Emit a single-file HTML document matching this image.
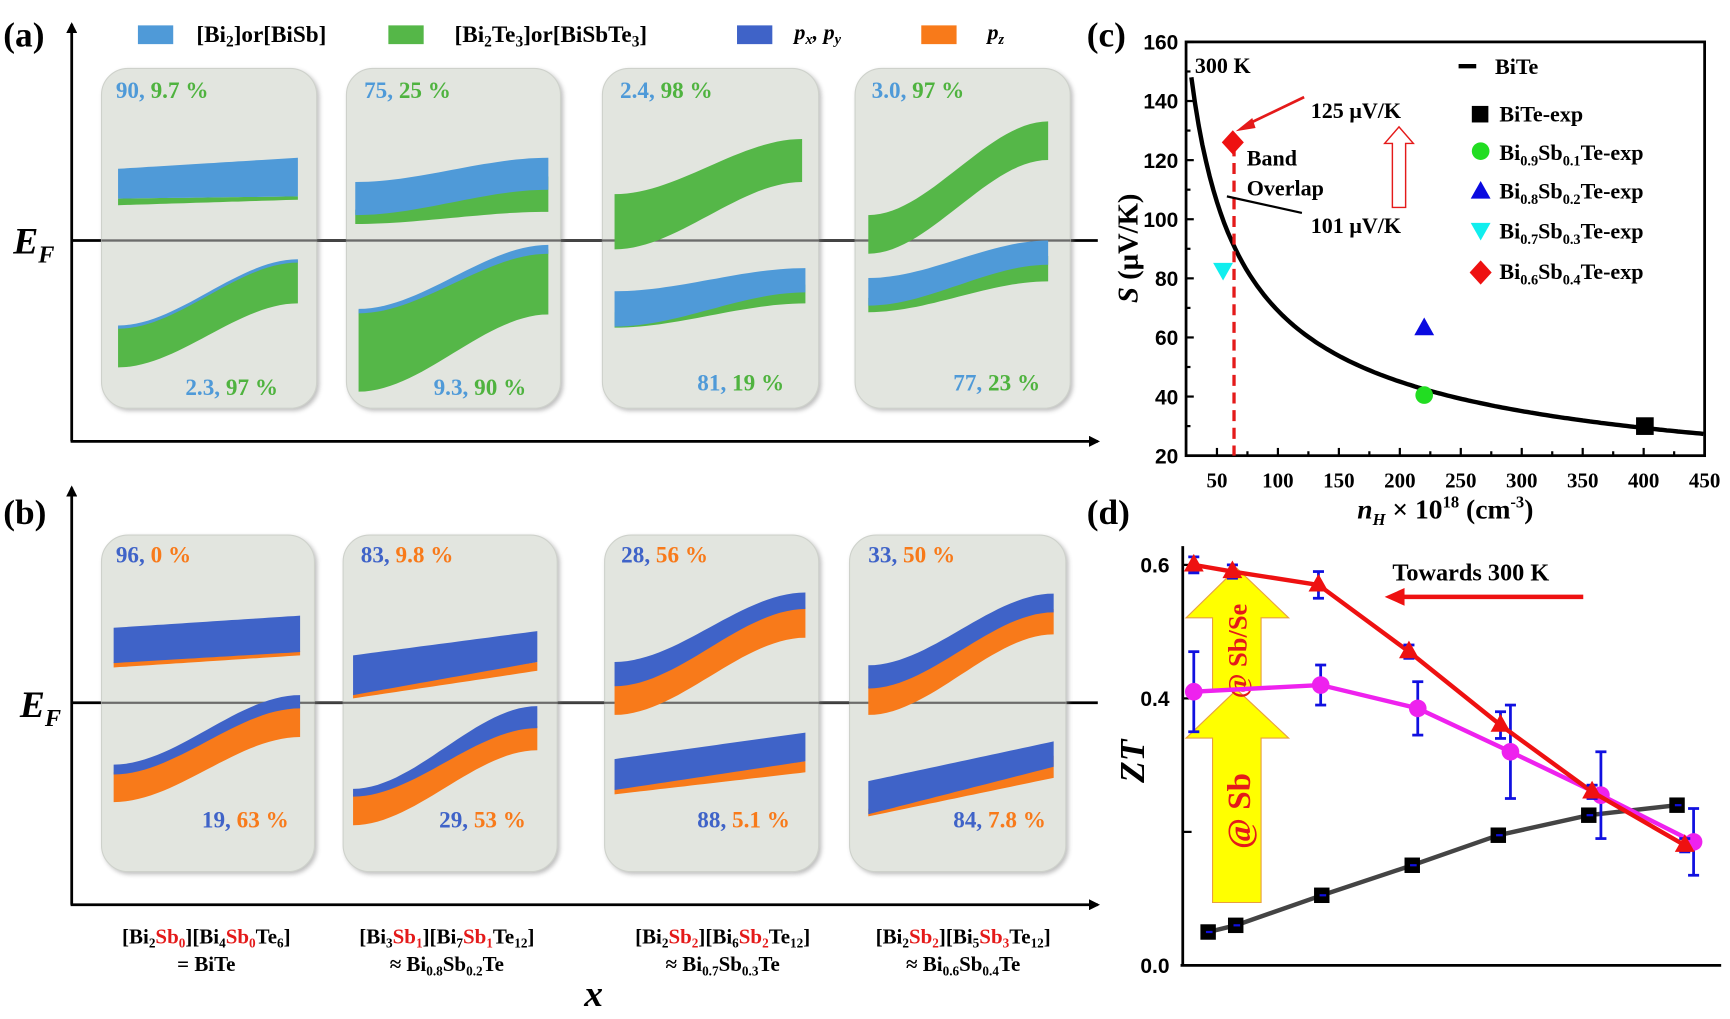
<!DOCTYPE html>
<html><head><meta charset="utf-8"><style>
html,body{margin:0;padding:0;background:#fff;}
svg{display:block;font-family:"Liberation Serif",serif;}
.b{font-weight:bold;}
</style></head><body>
<svg id="s" width="1730" height="1019" viewBox="0 0 1568 923.6" preserveAspectRatio="none" xmlns="http://www.w3.org/2000/svg">
<defs>
<marker id="ah" markerWidth="10" markerHeight="10" refX="8" refY="5" orient="auto" markerUnits="userSpaceOnUse"><path d="M0,0 L10,5 L0,10 z" fill="#000"/></marker>
<filter id="sh" x="-10%" y="-10%" width="120%" height="120%"><feDropShadow dx="2" dy="2" stdDeviation="2" flood-color="#888" flood-opacity="0.6"/></filter>
</defs>
<g id="g"></g>

<text x="3" y="42" class="b" font-size="32">(a)</text>
<text x="3" y="475" class="b" font-size="32">(b)</text>
<text x="985" y="42" class="b" font-size="32">(c)</text>
<text x="985" y="475" class="b" font-size="32">(d)</text>

<rect x="125" y="23" width="32" height="17" fill="#4f9ad8"/>
<text x="178" y="38" class="b" font-size="21">[Bi<tspan font-size="14" dy="4">2</tspan><tspan dy="-4">]or[BiSb]</tspan></text>
<rect x="352" y="23" width="32" height="17" fill="#55b748"/>
<text x="412" y="38" class="b" font-size="21">[Bi<tspan font-size="14" dy="4">2</tspan><tspan dy="-4">Te</tspan><tspan font-size="14" dy="4">3</tspan><tspan dy="-4">]or[BiSbTe</tspan><tspan font-size="14" dy="4">3</tspan><tspan dy="-4">]</tspan></text>
<rect x="668" y="23" width="32" height="17" fill="#3f63c8"/>
<text x="720" y="36" class="b" font-size="20" font-style="italic">p<tspan font-size="13" dy="4">x</tspan><tspan dy="-4">, p</tspan><tspan font-size="13" dy="4">y</tspan></text>
<rect x="835" y="23" width="32" height="17" fill="#f87a1a"/>
<text x="895" y="36" class="b" font-size="20" font-style="italic">p<tspan font-size="13" dy="4">z</tspan></text>

<text x="12" y="230" class="b" font-size="34" font-style="italic">E<tspan font-size="22" dy="8">F</tspan></text>
<text x="18" y="650" class="b" font-size="34" font-style="italic">E<tspan font-size="22" dy="8">F</tspan></text>

<g class="b" font-size="19" text-anchor="middle">
<text x="187" y="855">[Bi<tspan font-size="12" dy="4">2</tspan><tspan dy="-4" fill="#e41a1a">Sb</tspan><tspan font-size="12" dy="4" fill="#e41a1a">0</tspan><tspan dy="-4">][Bi</tspan><tspan font-size="12" dy="4">4</tspan><tspan dy="-4" fill="#e41a1a">Sb</tspan><tspan font-size="12" dy="4" fill="#e41a1a">0</tspan><tspan dy="-4">Te</tspan><tspan font-size="12" dy="4">6</tspan><tspan dy="-4">]</tspan></text>
<text x="187" y="880">= BiTe</text>
<text x="405" y="855">[Bi<tspan font-size="12" dy="4">3</tspan><tspan dy="-4" fill="#e41a1a">Sb</tspan><tspan font-size="12" dy="4" fill="#e41a1a">1</tspan><tspan dy="-4">][Bi</tspan><tspan font-size="12" dy="4">7</tspan><tspan dy="-4" fill="#e41a1a">Sb</tspan><tspan font-size="12" dy="4" fill="#e41a1a">1</tspan><tspan dy="-4">Te</tspan><tspan font-size="12" dy="4">12</tspan><tspan dy="-4">]</tspan></text>
<text x="405" y="880">≈ Bi<tspan font-size="12" dy="4">0.8</tspan><tspan dy="-4">Sb</tspan><tspan font-size="12" dy="4">0.2</tspan><tspan dy="-4">Te</tspan></text>
<text x="655" y="855">[Bi<tspan font-size="12" dy="4">2</tspan><tspan dy="-4" fill="#e41a1a">Sb</tspan><tspan font-size="12" dy="4" fill="#e41a1a">2</tspan><tspan dy="-4">][Bi</tspan><tspan font-size="12" dy="4">6</tspan><tspan dy="-4" fill="#e41a1a">Sb</tspan><tspan font-size="12" dy="4" fill="#e41a1a">2</tspan><tspan dy="-4">Te</tspan><tspan font-size="12" dy="4">12</tspan><tspan dy="-4">]</tspan></text>
<text x="655" y="880">≈ Bi<tspan font-size="12" dy="4">0.7</tspan><tspan dy="-4">Sb</tspan><tspan font-size="12" dy="4">0.3</tspan><tspan dy="-4">Te</tspan></text>
<text x="873" y="855">[Bi<tspan font-size="12" dy="4">2</tspan><tspan dy="-4" fill="#e41a1a">Sb</tspan><tspan font-size="12" dy="4" fill="#e41a1a">2</tspan><tspan dy="-4">][Bi</tspan><tspan font-size="12" dy="4">5</tspan><tspan dy="-4" fill="#e41a1a">Sb</tspan><tspan font-size="12" dy="4" fill="#e41a1a">3</tspan><tspan dy="-4">Te</tspan><tspan font-size="12" dy="4">12</tspan><tspan dy="-4">]</tspan></text>
<text x="873" y="880">≈ Bi<tspan font-size="12" dy="4">0.6</tspan><tspan dy="-4">Sb</tspan><tspan font-size="12" dy="4">0.4</tspan><tspan dy="-4">Te</tspan></text>
</g>
<text x="538" y="912" class="b" font-size="34" font-style="italic" text-anchor="middle">x</text>
</svg>
<script>
const NS="http://www.w3.org/2000/svg",G=document.getElementById('g');
function el(t,a,txt){const e=document.createElementNS(NS,t);for(const k in a)e.setAttribute(k,a[k]);if(txt!==undefined)e.textContent=txt;G.appendChild(e);return e;}
function sm(t){return t*t*(3-2*t);}
function curve(x0,x1,L,R,f){let p=[];for(let i=0;i<=30;i++){const t=i/30;p.push([x0+(x1-x0)*t,L+(R-L)*f(t)]);}return p;}
function band(x0,x1,tL,tR,bL,bR,c,lin){const f=lin?(t=>t):sm;const a=curve(x0,x1,tL,tR,f),b=curve(x0,x1,bL,bR,f).reverse();
 el('path',{d:'M'+a.concat(b).map(p=>p[0].toFixed(1)+','+p[1].toFixed(1)).join(' L')+' Z',fill:c});}
const LB='#4f9ad8',GR='#55b748',DB='#3f63c8',OR='#f87a1a';
function axes(top,bot,ef){el('line',{x1:65,y1:bot,x2:65,y2:top,stroke:'#000','stroke-width':2.5,'marker-end':'url(#ah)'});
 el('line',{x1:64,y1:bot,x2:995,y2:bot,stroke:'#000','stroke-width':2.5,'marker-end':'url(#ah)'});
 el('line',{x1:65,y1:ef,x2:995,y2:ef,stroke:'#000','stroke-width':2.5});}
axes(22,400,218);axes(442,820,637);
function box(x0,x1,y0,y1){el('rect',{x:x0,y:y0,width:x1-x0,height:y1-y0,rx:24,ry:24,fill:'#dfe3dc',opacity:0.9,stroke:'#c9cdc6','stroke-width':1,filter:'url(#sh)'});}
[[92,287],[314,508],[546,742],[775,970]].forEach(b=>box(b[0],b[1],62,370));
[[92,285],[311,505],[548,742],[770,966]].forEach(b=>box(b[0],b[1],485,790));
el('line',{x1:92,y1:218,x2:970,y2:218,stroke:'#555','stroke-width':2,opacity:0.8});
el('line',{x1:92,y1:637,x2:966,y2:637,stroke:'#555','stroke-width':2,opacity:0.8});
band(107,270,180,178,186,181,GR,1);band(107,270,153,143,180,178,LB,1);
band(107,270,296,236,333,275,GR);band(107,270,295,235,298,238,LB);
band(322,497,190,160,203,192,GR);band(322,497,165,143,195,172,LB);
band(325,497,281,226,355,285,GR);band(325,497,280,222,284,230,LB);
band(557,727,176,126,226,165,GR);
band(557,730,283,258,297,275,GR);band(557,730,264,243,296,265,LB);
band(787,950,195,110,230,145,GR);
band(787,950,270,232,283,255,GR);band(787,950,252,218,277,240,LB);
band(103,272,600,590,605,594,OR,1);band(103,272,569,558,601,591,DB,1);
band(103,272,700,640,727,668,OR);band(103,272,693,630,702,642,DB);
band(320,487,626,600,633,608,OR,1);band(320,487,594,572,630,600,DB,1);
band(320,487,720,658,748,680,OR);band(320,487,715,640,722,660,DB);
band(557,730,620,550,648,578,OR);band(557,730,600,537,622,552,DB);
band(557,730,712,690,720,700,OR,1);band(557,730,688,664,716,690,DB,1);
band(787,955,622,552,648,575,OR);band(787,955,603,538,624,555,DB);
band(787,955,733,685,740,705,OR,1);band(787,955,708,672,738,695,DB,1);
function pct(x,y,a,ca,b,cb){const t=el('text',{x:x,y:y,'font-size':21,'font-weight':'bold'});
 const s1=document.createElementNS(NS,'tspan');s1.setAttribute('fill',ca);s1.textContent=a+', ';t.appendChild(s1);
 const s2=document.createElementNS(NS,'tspan');s2.setAttribute('fill',cb);s2.textContent=b;t.appendChild(s2);}
const lb='#4f9ad8',gr='#4fb33f',db='#3f63c8',or='#f87a1a';
pct(105,89,'90',lb,'9.7 %',gr);pct(330,89,'75',lb,'25 %',gr);pct(562,89,'2.4',lb,'98 %',gr);pct(790,89,'3.0',lb,'97 %',gr);
pct(168,358,'2.3',lb,'97 %',gr);pct(393,358,'9.3',lb,'90 %',gr);pct(632,354,'81',lb,'19 %',gr);pct(864,354,'77',lb,'23 %',gr);
pct(105,510,'96',db,'0 %',or);pct(327,510,'83',db,'9.8 %',or);pct(563,510,'28',db,'56 %',or);pct(787,510,'33',db,'50 %',or);
pct(183,750,'19',db,'63 %',or);pct(398,750,'29',db,'53 %',or);pct(632,750,'88',db,'5.1 %',or);pct(864,750,'84',db,'7.8 %',or);

const cx=n=>1103+(n-50)*1.105, cy=v=>413-(v-20)*375/140;
el('rect',{x:1075,y:38,width:470,height:375,fill:'none',stroke:'#000','stroke-width':2.5});
for(let v=20;v<=160;v+=10){const y=cy(v);el('line',{x1:1075,y1:y,x2:1075+(v%20?4:7),y2:y,stroke:'#000','stroke-width':2});
 if(v%20==0)el('text',{x:1068,y:y+7,'font-size':19,'font-weight':'bold','text-anchor':'end','font-family':'Liberation Sans'},v);}
for(let n=50;n<=450;n+=25){const x=cx(n);el('line',{x1:x,y1:413,x2:x,y2:413-(n%50?4:7),stroke:'#000','stroke-width':2});
 if(n%50==0)el('text',{x:x,y:442,'font-size':19,'font-weight':'bold','text-anchor':'middle','font-family':'Liberation Serif'},n);}
let pts=[];for(let n=29;n<=450;n+=3){pts.push(cx(n).toFixed(1)+','+cy(148*Math.pow(29/n,0.616)).toFixed(1));}
el('polyline',{points:pts.join(' '),fill:'none',stroke:'#000','stroke-width':4});
el('line',{x1:cx(64),y1:cy(125),x2:cx(64),y2:413,stroke:'#e41a1a','stroke-width':3,'stroke-dasharray':'10,6'});
el('rect',{x:cx(401)-8,y:cy(30)-8,width:16,height:16,fill:'#000'});
el('circle',{cx:cx(220),cy:cy(40.5),r:8,fill:'#22dd22'});
el('path',{d:`M${cx(220)},${cy(63)-10} l9,16 h-18z`,fill:'#0a0ae0'});
el('path',{d:`M${cx(55)},${cy(83)+10} l9,-16 h-18z`,fill:'#11eeee'});
el('path',{d:`M${cx(63)},${cy(126)-11} l10,11 l-10,11 l-10,-11z`,fill:'#ee1111'});
el('text',{x:1083,y:66,'font-size':20,'font-weight':'bold'},'300 K');
el('line',{x1:1322,y1:60,x2:1338,y2:60,stroke:'#000','stroke-width':4});
el('text',{x:1355,y:67,'font-size':20,'font-weight':'bold'},'BiTe');
el('rect',{x:1334,y:96,width:15,height:15,fill:'#000'});
el('circle',{cx:1342,cy:137,r:8,fill:'#22dd22'});
el('path',{d:'M1342,164 l9,16 h-18z',fill:'#0a0ae0'});
el('path',{d:'M1342,218 l9,-16 h-18z',fill:'#11eeee'});
el('path',{d:'M1342,236 l10,11 l-10,11 l-10,-11z',fill:'#ee1111'});
const legs=[['BiTe-exp',110],['Bi|0.9|Sb|0.1|Te-exp',145],['Bi|0.8|Sb|0.2|Te-exp',180],['Bi|0.7|Sb|0.3|Te-exp',216],['Bi|0.6|Sb|0.4|Te-exp',253]];
legs.forEach(([s,y])=>{const t=el('text',{x:1359,y:y,'font-size':20,'font-weight':'bold'});s.split('|').forEach((p,i)=>{const ts=document.createElementNS(NS,'tspan');ts.textContent=p;if(i%2){ts.setAttribute('font-size',13);ts.setAttribute('dy',5);}else if(i>0){ts.setAttribute('dy',-5);}t.appendChild(ts);});});
el('text',{x:1188,y:107,'font-size':20,'font-weight':'bold'},'125 μV/K');
el('line',{x1:1182,y1:88,x2:1130,y2:113,stroke:'#e41a1a','stroke-width':2.5});
el('path',{d:'M1120,119 l15,-12 l3,9z',fill:'#e41a1a'});
el('text',{x:1130,y:150,'font-size':20,'font-weight':'bold'},'Band');
el('text',{x:1130,y:177,'font-size':20,'font-weight':'bold'},'Overlap');
el('text',{x:1188,y:211,'font-size':20,'font-weight':'bold'},'101 μV/K');
el('line',{x1:1180,y1:193,x2:1112,y2:178,stroke:'#000','stroke-width':2});
el('path',{d:'M1262,188 v-58 h-7 l13,-15 l13,15 h-7 v58z',fill:'#fff',stroke:'#e41a1a','stroke-width':1.3});
const yl=el('text',{x:0,y:0,'font-size':26,'font-weight':'bold',transform:'translate(1031,225) rotate(-90)','text-anchor':'middle'});
yl.innerHTML='<tspan font-style="italic">S</tspan> (μV/K)';
const xl=el('text',{x:1310,y:470,'font-size':25,'font-weight':'bold','text-anchor':'middle'});
xl.innerHTML='<tspan font-style="italic">n</tspan><tspan font-style="italic" font-size="15" dy="6">H</tspan><tspan dy="-6"> × 10</tspan><tspan font-size="15" dy="-10">18</tspan><tspan dy="10"> (cm</tspan><tspan font-size="15" dy="-10">-3</tspan><tspan dy="10">)</tspan>';

const dy=v=>875-605*v;
el('line',{x1:1072,y1:495,x2:1072,y2:876,stroke:'#000','stroke-width':2.5});
el('line',{x1:1070,y1:875,x2:1560,y2:875,stroke:'#000','stroke-width':2.5});
[0,0.2,0.4,0.6].forEach(v=>{el('line',{x1:1072,y1:dy(v),x2:1080,y2:dy(v),stroke:'#000','stroke-width':2});});
[0,0.4,0.6].forEach(v=>el('text',{x:1060,y:dy(v)+7,'font-size':19,'font-weight':'bold','text-anchor':'end','font-family':'Liberation Sans'},v.toFixed(1)));
el('text',{x:0,y:0,'font-size':32,'font-weight':'bold','font-style':'italic',transform:'translate(1037,690) rotate(-90)','text-anchor':'middle'},'ZT');
el('path',{d:'M1099,818 V669 H1075 L1121,625 L1168,669 H1143 V818 Z',fill:'#ffff00',stroke:'#e8a040','stroke-width':1});
el('path',{d:'M1099,625 V560 H1075 L1121,515 L1168,560 H1143 V625 Z',fill:'#ffff00',stroke:'#e8a040','stroke-width':1});
el('text',{x:0,y:0,'font-size':24,'font-weight':'bold',fill:'#e41a1a',transform:'translate(1130,590) rotate(-90)','text-anchor':'middle'},'@ Sb/Se');
el('text',{x:0,y:0,'font-size':30,'font-weight':'bold',fill:'#e41a1a',transform:'translate(1133,735) rotate(-90)','text-anchor':'middle'},'@ Sb');
function err(x,v,e){el('line',{x1:x,y1:dy(v+e),x2:x,y2:dy(v-e),stroke:'#1010e0','stroke-width':2.5});
 el('line',{x1:x-5,y1:dy(v+e),x2:x+5,y2:dy(v+e),stroke:'#1010e0','stroke-width':2.5});el('line',{x1:x-5,y1:dy(v-e),x2:x+5,y2:dy(v-e),stroke:'#1010e0','stroke-width':2.5});}
const blk=[[1095,0.05],[1120,0.06],[1198,0.105],[1280,0.15],[1358,0.195],[1440,0.225],[1520,0.24]];
el('polyline',{points:blk.map(p=>p[0]+','+dy(p[1])).join(' '),fill:'none',stroke:'#444','stroke-width':4});
blk.forEach(p=>{el('rect',{x:p[0]-7,y:dy(p[1])-7,width:14,height:14,fill:'#000'});el('line',{x1:p[0]-2,y1:dy(p[1]),x2:p[0]+4,y2:dy(p[1]),stroke:'#1010e0','stroke-width':2});});
const mg=[[1082,0.41,0.06],[1197,0.42,0.03],[1285,0.385,0.04],[1369,0.32,0.07],[1451,0.255,0.065],[1535,0.185,0.05]];
el('polyline',{points:mg.map(p=>p[0]+','+dy(p[1])).join(' '),fill:'none',stroke:'#ee22ee','stroke-width':4});
mg.forEach(p=>err(p[0],p[1],p[2]));
mg.forEach(p=>el('circle',{cx:p[0],cy:dy(p[1]),r:8,fill:'#ee22ee'}));
const rd=[[1082,0.6,0.012],[1117,0.59,0.01],[1195,0.57,0.02],[1277,0.47,0.01],[1360,0.36,0.02],[1443,0.26,0.01],[1527,0.18,0.01]];
el('polyline',{points:rd.map(p=>p[0]+','+dy(p[1])).join(' '),fill:'none',stroke:'#ee1111','stroke-width':4});
rd.forEach(p=>err(p[0],p[1],p[2]));
rd.forEach(p=>el('path',{d:`M${p[0]},${dy(p[1])-10} l9,16 h-18z`,fill:'#ee1111'}));
el('text',{x:1262,y:526,'font-size':22,'font-weight':'bold'},'Towards 300 K');
el('line',{x1:1435,y1:541,x2:1268,y2:541,stroke:'#ee1111','stroke-width':4});
el('path',{d:'M1255,541 l18,-8 v16z',fill:'#ee1111'});
</script>
</body></html>
